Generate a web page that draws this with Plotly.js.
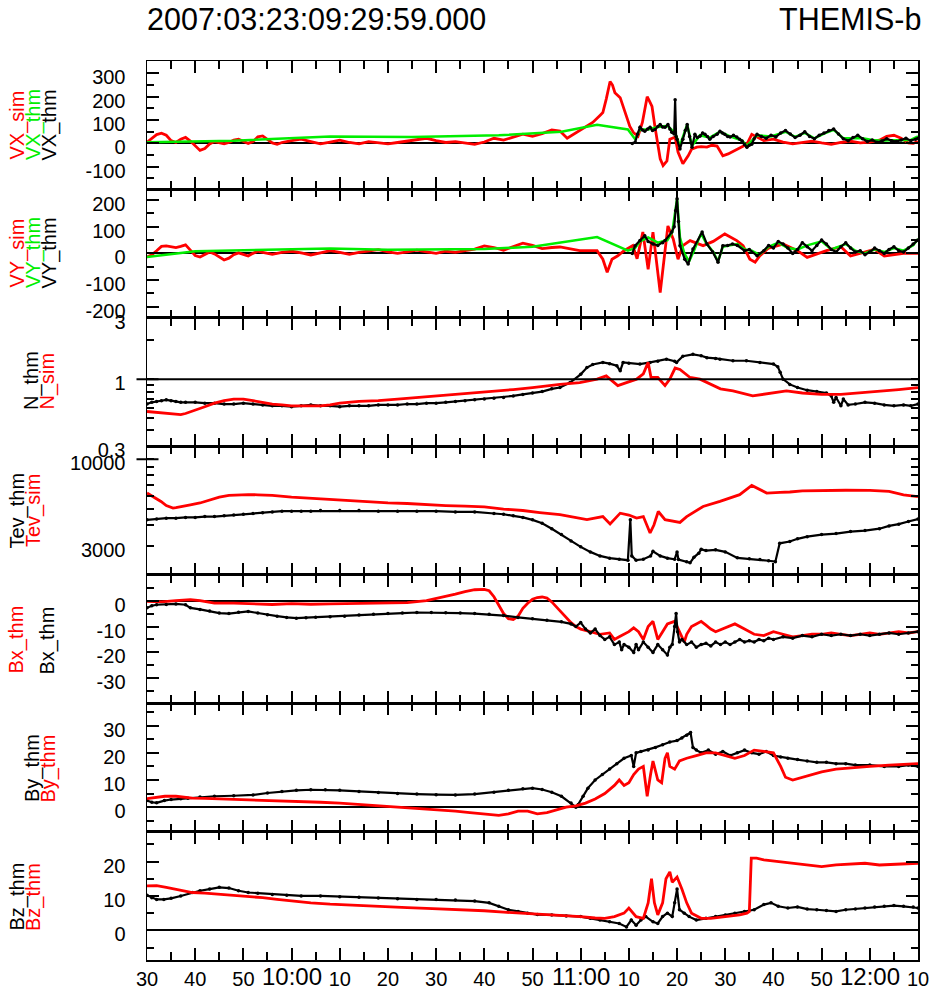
<!DOCTYPE html>
<html><head><meta charset="utf-8">
<script src="https://cdn.plot.ly/plotly-3.0.1.min.js"></script>
<style>html,body{margin:0;padding:0;background:#fff}#chart{width:934px;height:991px}</style>
</head><body><div id="chart"></div>
<script>
// time = minutes after 09:30:00 UT, 2007-03-23
const xTickVals = [0,10,20,30,40,50,60,70,80,90,100,110,120,130,140,150,160];
const xTickText = ['30','40','50','','10','20','30','40','50','','10','20','30','40','50','','10'];
const xMinorVals = [5,15,25,35,45,55,65,75,85,95,105,115,125,135,145,155];
const hourVals = [30,90,150];
const hourText = ['10:00','11:00','12:00'];

const vxTicks = [-100,0,100,200,300];
const vxTickText = ['-100','0','100','200','300'];
const vxMinor = [-150,-50,50,150,250];
const vyTicks = [-200,-100,0,100,200];
const vyTickText = ['-200','-100','0','100','200'];
const vyMinor = [-150,-50,50,150];
const nTicks = [0.3,1,3];
const nTickText = ['0.3','1','3'];
const nMinor = [0.4,0.5,0.6,0.7,0.8,0.9,2];
const teTicks = [3000,10000];
const teTickText = ['3000','10000'];
const teMinor = [4000,5000,6000,7000,8000,9000];
const bxTicks = [-30,-20,-10,0];
const bxTickText = ['-30','-20','-10','0'];
const bxMinor = [-35,-25,-15,-5,5];
const byTicks = [0,10,20,30];
const byTickText = ['0','10','20','30'];
const byMinor = [-5,5,15,25,35];
const bzTicks = [0,10,20];
const bzTickText = ['0','10','20'];
const bzMinor = [-5,5,15,25];

// [minute, value]
const vxSim = [[0,5],[1,20],[2,38],[3,44],[4,35],[5,12],[6,4],[7,18],[8,26],[9,10],[10,-12],[11,-30],[12,-22],[13,-2],[14,8],[15,4],[16,-2],[17,4],[18,14],[19,18],[20,8],[21,0],[22,8],[23,28],[24,32],[25,16],[26,2],[27,-4],[28,4],[30,12],[32,18],[34,8],[36,-2],[38,6],[40,14],[42,4],[44,-2],[46,8],[48,4],[50,-2],[52,4],[54,10],[56,18],[58,22],[60,12],[62,4],[64,8],[66,2],[68,-4],[70,6],[72,22],[74,14],[76,26],[78,40],[80,30],[82,42],[84,58],[85.7,53],[87.2,22],[89,45],[91,70],[92.5,90],[94,120],[94.6,132],[95.3,190],[96.1,265],[96.6,250],[97.1,217],[98.2,196],[98.8,158],[99.5,110],[100.2,73],[101,45],[101.9,31],[102.8,90],[103.8,200],[104.3,180],[104.8,158],[105.4,73],[106,-10],[106.5,-66],[107.1,-95],[107.9,-75],[108.5,18],[109.6,27],[110.2,-37],[111.2,-87],[112.3,-53],[113,-25],[114.1,-16],[115,-14],[116.2,-16],[117.2,-8],[118.3,-11],[119.5,-53],[120.6,-45],[122.4,-24],[124.5,-3],[125.5,39],[126.6,27],[128,12],[130,18],[132,6],[134,-2],[136,4],[138,10],[140,2],[142,-4],[144,4],[146,10],[148,2],[150,6],[152,14],[153.5,30],[155,35],[156.5,22],[158,2],[159,0],[160,8]];
const vxThmG = [[0,5],[18,12],[38,30],[55,28],[73,35],[86,50],[93.4,80],[99.8,60],[101.3,18],[102.3,60],[104,60],[106,70],[108,75],[109.6,45],[110.6,-10],[112.1,81],[113.1,-10],[114.75,35],[116.8,25],[118.9,50],[121,30],[123.5,12],[124.5,-10],[126.6,35],[129.5,30],[132.5,50],[134.5,28],[136.5,45],[138.5,22],[140.5,42],[142.5,58],[144.5,22],[146.5,22],[148.5,22],[150.5,15],[152.5,12],[154.5,14],[156.5,15],[158.5,15],[160,30]];
const vxThm = [[100.7,0],[101.3,5],[101.8,40],[102.3,69],[102.8,58],[103.3,52],[103.9,62],[104.4,69],[104.9,55],[105.4,60],[106,72],[106.5,81],[107,70],[107.5,69],[108.1,81],[108.5,62],[108.9,48],[109.4,40],[109.6,187],[109.8,30],[110,18],[110.6,-24],[111.2,18],[111.7,55],[112.1,81],[112.6,30],[113.1,-16],[113.7,39],[114.2,25],[114.75,31],[115.3,45],[115.8,39],[116.3,30],[116.8,18],[117.5,30],[118.3,39],[118.9,52],[119.4,45],[119.9,39],[120.5,30],[121,27],[121.7,35],[122.4,27],[123,18],[123.5,10],[124,-5],[124.5,-16],[125,-8],[125.5,-3],[126,20],[126.6,39],[127.5,30],[128.5,22],[129.5,35],[130.5,28],[131.5,45],[132.5,55],[133.5,40],[134.5,25],[135.5,35],[136.5,50],[137.5,30],[138.5,20],[139.5,35],[140.5,45],[141.5,55],[142.5,62],[143.5,40],[144.5,20],[145.5,12],[146.5,25],[147.5,35],[148.5,20],[149.5,8],[150.5,15],[151.5,5],[152.5,10],[153.5,20],[154.5,12],[155.5,8],[156.5,15],[157.5,22],[158.5,12],[159.5,18],[160,22]];

const vySim = [[0,-14],[1,-5],[2,10],[3,26],[4,28],[5,24],[6,22],[7,26],[8,32],[9,12],[10,-8],[11,-14],[12,-5],[13,5],[14,-2],[15,-15],[16,-25],[17,-18],[18,-5],[19,2],[20,-3],[21,-10],[22,0],[23,8],[24,4],[26,-4],[28,4],[30,8],[32,2],[34,-6],[36,2],[38,10],[40,4],[42,-4],[44,4],[46,10],[48,14],[50,6],[52,0],[54,6],[56,12],[58,6],[60,0],[62,8],[64,4],[66,10],[68,16],[70,28],[72,22],[74,12],[76,26],[78,38],[80,30],[82,18],[84,22],[85.7,24],[89.8,10],[93.4,10],[94.6,-22],[95.5,-71],[96.5,-22],[97.7,-9],[99,10],[100.8,29],[101.7,-20],[102.9,80],[104,-60],[105,80],[106.5,-147],[108.1,103],[109.2,54],[110.2,-22],[111.2,29],[112.7,48],[115.4,29],[117.5,45],[119.9,73],[122.4,48],[123.7,29],[125.1,-22],[126.2,-33],[127.2,-9],[129,20],[132,35],[135,10],[137,-15],[141,10],[144,25],[146,-10],[149,5],[151,15],[153,-10],[155,-5],[157,0],[160,0]];
const vyThmG = [[0,-14],[10,8],[38,18],[50,14],[70,16],[80,25],[93.4,61],[99.8,10],[101.3,20],[102.3,45],[104,60],[106,40],[108,50],[109,80],[110,205],[110.6,60],[111.5,0],[112.5,-30],[113.5,10],[115,75],[116,40],[117.5,5],[118.5,-30],[119.5,25],[121,30],[122.5,35],[124,15],[125.5,10],[127,-5],[129,25],[131,40],[133,20],[135,15],[137,30],[140,45],[142,15],[145,35],[147,10],[149,0],[151,15],[153,5],[155,20],[157,10],[159,30],[160,54]];
const vyThm = [[100.7,0],[101.3,29],[102.3,48],[103.3,66],[104,45],[105,35],[106,30],[107,40],[107.5,48],[108.9,80],[109.4,100],[109.7,160],[110,205],[110.3,120],[110.6,29],[111.6,-22],[112.3,-40],[113.3,16],[115.2,80],[116.2,35],[117.4,5],[118.5,-33],[119.5,29],[120.5,30],[121.5,35],[122.5,30],[124,10],[125,15],[126.6,-9],[128,10],[129,30],[130,20],[131,45],[132,35],[133,20],[134,0],[135,15],[136,40],[137,25],[138,10],[139,30],[140,50],[141,35],[142,15],[143,5],[144,25],[145,40],[146,20],[147,5],[148,10],[149,-5],[150,5],[151,20],[152,10],[153,0],[154,15],[155,25],[156,10],[157,5],[158,20],[159,35],[160,50]];

const nThm = [[0,0.64],[1,0.66],[2,0.67],[3,0.68],[4,0.69],[5,0.68],[6,0.67],[7,0.66],[8,0.66],[10,0.66],[12,0.65],[14,0.65],[16,0.64],[18,0.64],[20,0.65],[22,0.64],[24,0.63],[26,0.62],[28,0.62],[30,0.61],[32,0.62],[34,0.63],[36,0.62],[38,0.62],[40,0.61],[42,0.62],[44,0.62],[46,0.62],[48,0.63],[50,0.63],[52,0.63],[54,0.64],[56,0.64],[58,0.65],[60,0.65],[62,0.66],[64,0.67],[66,0.68],[68,0.69],[70,0.70],[72,0.71],[74,0.72],[76,0.74],[78,0.76],[80,0.78],[82,0.80],[84,0.84],[85.7,0.86],[87.8,0.94],[90,1.09],[91.3,1.23],[92.5,1.30],[94.6,1.35],[96,1.32],[97.5,1.27],[98.2,1.16],[98.8,1.35],[100,1.33],[102.3,1.31],[104.4,1.35],[106,1.38],[107.8,1.43],[109.5,1.38],[109.9,1.35],[111.2,1.51],[113.3,1.56],[115,1.52],[116.2,1.47],[118,1.45],[118.9,1.43],[121.6,1.39],[124.4,1.39],[127.2,1.35],[130,1.31],[130.9,1.25],[131.4,1.13],[132,1.0],[133.4,0.91],[135,0.86],[137,0.82],[139,0.80],[141,0.78],[142,0.74],[142.5,0.66],[143,0.72],[144,0.62],[144.5,0.70],[145.5,0.63],[147,0.64],[149,0.66],[151,0.65],[153,0.63],[155,0.62],[157,0.63],[158.5,0.62],[160,0.64]];
const nSim = [[0,0.56],[2,0.55],[4,0.54],[6,0.53],[7,0.53],[8,0.54],[10,0.57],[12,0.61],[14,0.65],[16,0.68],[18,0.70],[20,0.70],[22,0.68],[24,0.66],[26,0.64],[28,0.63],[30,0.62],[32,0.62],[34,0.62],[36,0.62],[38,0.63],[40,0.65],[44,0.67],[48,0.68],[52,0.70],[56,0.72],[60,0.74],[64,0.76],[68,0.78],[72,0.80],[76,0.83],[80,0.86],[82,0.88],[85.7,0.91],[89.8,0.94],[93.4,1.0],[95.3,1.06],[97.7,0.89],[99.5,0.94],[101.6,1.0],[103,1.1],[104,1.35],[104.6,1.03],[106,1.03],[107.5,0.89],[108.5,1.0],[109.6,1.22],[110.6,1.19],[112.7,1.03],[114.75,1.0],[119,0.84],[121.6,0.81],[125.7,0.74],[128.6,0.77],[132.7,0.81],[136,0.78],[140,0.76],[144,0.76],[148,0.78],[152,0.80],[156,0.83],[160,0.86]];

const teThm = [[0,4300],[2,4350],[4,4400],[6,4400],[8,4450],[10,4450],[12,4500],[14,4500],[16,4550],[18,4600],[20,4650],[22,4700],[24,4750],[26,4800],[28,4850],[30,4850],[32,4850],[34,4850],[36,4900],[40,4900],[44,4900],[48,4850],[52,4850],[56,4850],[60,4850],[64,4800],[68,4800],[72,4700],[74,4650],[76,4550],[78,4450],[80,4300],[82,4100],[84,3800],[86,3500],[88,3200],[90,2950],[92,2750],[94,2600],[96,2520],[98,2480],[99.8,2450],[100.3,4300],[100.6,2600],[101.5,2450],[103,2480],[104.5,2600],[105,2770],[106.5,2600],[108,2520],[109.5,2480],[110,2750],[110.3,2470],[112,2400],[112.7,2360],[113.5,2550],[114.5,2700],[115,2850],[116,2800],[118,2830],[120,2750],[122.5,2530],[125,2500],[127.2,2470],[129,2430],[130.4,2400],[131.3,3100],[133.4,3180],[135,3300],[137,3400],[140,3500],[143,3550],[146,3650],[149,3700],[152,3800],[154,3950],[156,4050],[158,4200],[160,4350]];
const teSim = [[0,6250],[1,6000],[2.9,5560],[4,5250],[5.4,5070],[6,5100],[7.8,5190],[9,5300],[11,5440],[13,5650],[15,5900],[17,6050],[19,6100],[21,6120],[23,6100],[26,6050],[30,5900],[34,5800],[38,5700],[42,5600],[46,5500],[50,5450],[54,5400],[58,5300],[62,5250],[66,5200],[70,5150],[74,5000],[78,4900],[81.5,4760],[85.7,4620],[91.3,4310],[94.6,4500],[96.1,4060],[98.2,4720],[100,4600],[101.6,4410],[103,4500],[104.4,3580],[105.2,4000],[106.1,4830],[107.5,4310],[110.6,4150],[112,4500],[115.4,5180],[118.9,5560],[123,6110],[125.5,6950],[128.6,6250],[131.4,6310],[133.4,6340],[136,6450],[140,6500],[145,6500],[150,6480],[154,6400],[157,6100],[160,5950]];

const bxSim = [[0,-0.3],[3,-0.5],[6,0],[9,0.4],[11,0],[14,-1],[18,-1],[22,-1.2],[26,-1.5],[30,-1.2],[34,-1.4],[38,-1.3],[42,-1.2],[46,-1.1],[50,-1],[54,-0.8],[58,0],[60,0.8],[62,1.6],[64,2.5],[66,3.5],[68,4.2],[70,4.3],[71,3.8],[72,1.5],[73,-2],[74,-5],[75,-7],[76,-7.3],[77,-6],[78,-3],[79,-1],[80,0.5],[81,1.2],[82,1.4],[83,1.0],[84,-0.5],[85,-2.5],[86,-4.5],[87,-6.5],[88,-8.5],[89,-10],[90,-11],[92,-12],[94,-13],[96,-12.5],[97,-15],[98,-14],[100,-12],[101,-10.5],[102,-12],[103,-15],[104,-10],[105,-8],[105.5,-12],[106,-15],[107,-12],[108,-9],[109.5,-8],[110.5,-12],[111.5,-16],[112,-13],[113,-10],[114,-9],[115,-8],[116,-9.5],[117,-11],[118,-12],[120,-10.5],[122,-9],[124,-11],[126,-13],[128,-13.5],[130,-12],[132,-13],[134,-14],[136,-13.5],[138,-13],[140,-13],[142,-12.5],[144,-13],[146,-13.5],[148,-13],[150,-12.5],[152,-13],[154,-12.5],[156,-12],[158,-12.5],[160,-12]];
const bxThm = [[0,-2.8],[1,-2],[2,-1.6],[4,-1.5],[6,-1.3],[8,-1.6],[9,-2.8],[11,-3.4],[13,-4],[15,-4.8],[17,-5],[19,-4.5],[21,-4.2],[23,-4.8],[25,-5.5],[27,-6],[29,-6.5],[31,-6.8],[33,-6.6],[35,-6.4],[38,-6.2],[41,-6.0],[44,-5.6],[47,-5.3],[50,-5.0],[53,-4.8],[56,-4.6],[59,-4.6],[62,-4.7],[65,-4.8],[68,-5],[71,-5.3],[74,-5.8],[77,-6.5],[80,-7],[83,-7.6],[86,-8.2],[88,-9],[89,-10],[90,-8.5],[91,-11],[92,-12.5],[93,-11],[94,-13.5],[95,-15],[96,-14],[97,-17],[98,-16],[98.5,-19],[99,-17],[100,-18],[101,-20],[101.5,-17],[102,-19],[103,-16],[104,-18],[105,-20],[106,-17],[107,-19],[108,-21],[108.5,-18],[109,-17],[109.5,-10],[109.8,-5],[110.1,-12],[110.5,-16],[111,-15],[112,-17],[113,-16],[114,-18],[115,-17],[116,-16.5],[117,-17.5],[118,-16],[119,-17],[120,-16],[121,-17],[122,-16],[123,-15],[124,-16],[125,-15.5],[126,-16],[127,-15],[128,-15.5],[129,-14.5],[130,-15],[132,-14],[134,-14.5],[136,-13.5],[138,-14],[140,-13],[142,-13.5],[144,-13],[146,-13.5],[148,-13],[150,-13.5],[152,-13],[154,-12.5],[156,-13],[158,-12.5],[160,-12]];

const bySim = [[0,3.1],[2,3.6],[3.7,4],[6,4],[8,3.6],[9.4,3.3],[12,3.2],[16,3.0],[20,2.8],[24,2.6],[28,2.3],[32,2.0],[36,1.8],[40,1.5],[44,1.0],[48,0.5],[52,0.2],[56,-0.3],[60,-0.8],[64,-1.5],[67,-2],[70,-2.5],[73,-3],[75,-2.5],[77,-1.5],[79,-1.5],[81,-2.5],[83,-2],[85,-1],[87,0],[89,0.5],[91,1.5],[93,3],[95,5],[97,8],[98,10],[99,8],[100,9],[101,12],[102,14],[103,15],[103.8,4],[104.5,12],[105,17],[106,10],[106.8,9],[107.5,18],[108,20],[108.5,15],[109.5,14],[110.5,17],[112,18],[114,19],[116,20],[118,20],[120,19],[122,18],[124,19],[126,21],[128,20.5],[130,20],[131.5,15],[132.5,11],[134,10],[136,11],[138,12],[140,13],[143,14],[146,14.5],[150,15],[154,15.5],[158,15.8],[160,16]];
const byThm = [[0,2.4],[1,1.8],[2,1.6],[3.6,2.4],[5,2.8],[7,3.1],[8.5,3.3],[11,3.7],[14,4],[18,4.2],[22,4.5],[25,5.2],[28,5.8],[31,6.2],[34,6.4],[37,6.4],[40,6.2],[44,5.8],[48,5.4],[52,5],[56,4.8],[60,4.6],[64,4.5],[68,4.8],[72,5.5],[75,6.2],[78,6.8],[80,7],[82,6.5],[84,5.5],[86,4],[88,1.5],[89,0],[89.5,1],[90.5,4],[91.5,7],[93,10],[94.5,12],[96,14],[97.5,16],[99,18],[100.5,19],[101,15],[101.5,20],[102.5,20.5],[104,21],[105.5,22],[107,23],[108.5,24],[110,24.5],[111,25.5],[112,26.5],[112.8,27.5],[113.3,22],[114,21],[115,20],[116.5,21],[118,19.5],[119.5,20.5],[121,19],[122.5,20],[124,21],[125.5,20],[127,19.5],[128.5,20.5],[130,19],[131.5,18.5],[133,18],[135,17.5],[137,17],[139,16.5],[141,16.5],[143,16],[145,16],[147,15.5],[150,15.5],[153,15],[156,15],[158,15.5],[160,15]];

const bzSim = [[0,12.9],[2,13],[4,12.5],[6,12],[8,11.5],[9.4,11],[12,10.8],[15,10.5],[18,10.2],[21,10],[24,9.5],[27,9],[30,8.5],[34,8],[38,7.6],[42,7.3],[46,7],[50,6.8],[54,6.6],[58,6.4],[62,6.2],[66,6],[70,5.7],[74,5.3],[78,5],[82,4.5],[86,4.2],[90,4],[93,3.6],[95,3.5],[97,4],[99,5],[100,6.5],[101.5,4],[103,3.5],[104,8],[104.7,15],[105.3,8],[106,4.5],[107,8],[107.7,15],[108.5,17],[109,14],[110,15.5],[111,12],[112,8],[113,5],[115,3.5],[117,3.5],[120,4],[123,4.5],[124.5,5],[125,5.5],[125.4,21],[126.5,21],[128,20.5],[131,20],[134,19.5],[137,18.8],[140,18.5],[143,19],[146,19.2],[149,19.5],[152,19],[155,19.2],[158,19.5],[160,19.5]];
const bzThm = [[0,10.2],[1,9.5],[2,9],[3.5,9],[5,9.3],[7,10],[9.4,11],[11,11.5],[13,12],[15,12.5],[17,12.3],[19,11.5],[21,11],[23,10.8],[26,10.4],[29,10.2],[32,10],[36,10],[40,9.8],[44,9.6],[48,9.4],[52,9.2],[56,9],[60,9],[64,8.8],[68,8.5],[71,8],[73,7],[75,6],[77,5.5],[79,5],[81,4.6],[84,4.5],[87,4.2],[90,4],[92,3.5],[94,3],[96,2.5],[98,2],[99.5,1],[100.5,3],[101.5,1.5],[102.5,3],[103.5,4],[105,2.5],[106,2],[107,4],[108,5],[109,4],[109.5,8],[110,12],[110.5,6],[111.5,5],[112.5,4],[114,3],[116,3.5],[118,4],[120,4.5],[122,5],[124,5.5],[126,6],[128,7.5],[129.5,8],[131,7],[133,6.5],[135,6.8],[137,6.2],[139,6],[141,5.8],[143,5.5],[145,6],[147,6.2],[149,6.5],[151,6.8],[153,7],[155,7.2],[157,7],[159,6.8],[160,6.5]];

const RED='#ff0000', GREEN='#00ee00', BLACK='#000000';
const FONT='Liberation Sans, Arial, Helvetica, sans-serif';
const L=147, R=918, T=61, B=960;
const px = x => (x-L)/(R-L);
const py = y => (B-y)/(B-T);

function tr(pairs, color, k, kind){
  return {x: pairs.map(p=>p[0]), y: pairs.map(p=>p[1]), type:'scatter',
    xaxis: k===1?'x':'x'+k, yaxis: k===1?'y':'y'+k, showlegend:false, hoverinfo:'skip',
    mode: kind==='thm'?'lines+markers':'lines',
    line:{color:color, width: kind==='thm'?2.2:(kind==='g'?2.5:2.8)},
    marker:{color:color, size:3.5}};
}
const data = [
  tr(vxSim,RED,1,'sim'), tr(vxThmG,GREEN,1,'g'), tr(vxThm,BLACK,1,'thm'),
  tr(vySim,RED,2,'sim'), tr(vyThmG,GREEN,2,'g'), tr(vyThm,BLACK,2,'thm'),
  tr(nThm,BLACK,3,'thm'), tr(nSim,RED,3,'sim'),
  tr(teThm,BLACK,4,'thm'), tr(teSim,RED,4,'sim'),
  tr(bxSim,RED,5,'sim'), tr(bxThm,BLACK,5,'thm'),
  tr(byThm,BLACK,6,'thm'), tr(bySim,RED,6,'sim'),
  tr(bzThm,BLACK,7,'thm'), tr(bzSim,RED,7,'sim')
];

const layout = {width:934, height:991, margin:{l:L, r:934-R, t:T, b:991-B},
  paper_bgcolor:'#fff', plot_bgcolor:'#fff', font:{family:FONT, size:20, color:'#000'},
  showlegend:false, shapes:[], annotations:[]};

const yspec = [
  {type:'linear', range:[-197,353], tv:vxTicks, tt:vxTickText, mv:vxMinor},
  {type:'linear', range:[-242,240], tv:vyTicks, tt:vyTickText, mv:vyMinor},
  {type:'log', range:[Math.log10(0.3),Math.log10(3)], tv:nTicks, tt:nTickText, mv:nMinor},
  {type:'log', range:[Math.log10(2000),Math.log10(12000)], tv:teTicks, tt:teTickText, mv:teMinor},
  {type:'linear', range:[-39.6,10], tv:bxTicks, tt:bxTickText, mv:bxMinor},
  {type:'linear', range:[-9,38.3], tv:byTicks, tt:byTickText, mv:byMinor},
  {type:'linear', range:[-8.6,28.7], tv:bzTicks, tt:bzTickText, mv:bzMinor}
];
for(let i=0;i<7;i++){
  const k=i+1, s=yspec[i];
  const xa = {anchor: k===1?'y':'y'+k, range:[0,160], tickmode:'array', tickvals:xTickVals, ticktext:xTickText,
    ticks:'inside', ticklen:12, tickwidth:2, tickcolor:'#000', showline:true, linewidth:1.5, linecolor:'#000',
    mirror:'ticks', showgrid:false, zeroline:false, showticklabels:k===7, tickfont:{size:20, family:FONT},
    minor:{tickmode:'array', tickvals:xMinorVals, ticks:'inside', ticklen:8, tickwidth:2, tickcolor:'#000', showgrid:false}};
  const ya = {anchor: k===1?'x':'x'+k, domain:[1-(i+1)/7, 1-i/7], type:s.type, range:s.range,
    tickmode:'array', tickvals:s.tv, ticktext:s.tt, ticks:'inside', ticklen: s.type==='log'?7:12, tickwidth:2, tickcolor:'#000',
    showline:true, linewidth:1.5, linecolor:'#000', mirror:'ticks', showgrid:false,
    zeroline: s.type!=='log', zerolinecolor:'#000', zerolinewidth:2,
    tickfont:{size:20, family:FONT}, ticklabelstandoff:16, ticklabelshift:4,
    minor:{tickmode:'array', tickvals:s.mv, ticks:'inside', ticklen:7, tickwidth:2, tickcolor:'#000', showgrid:false}};
  layout[k===1?'xaxis':'xaxis'+k] = xa;
  layout[k===1?'yaxis':'yaxis'+k] = ya;
}
layout.shapes.push({type:'line', xref:'x3', yref:'y3', x0:0, x1:160, y0:1, y1:1, line:{color:'#000', width:2}});
layout.shapes.push({type:'line', xref:'paper', yref:'y3', x0:px(136.5), x1:px(158.5), y0:1, y1:1, line:{color:'#000', width:2}});
layout.shapes.push({type:'line', xref:'paper', yref:'y4', x0:px(136.5), x1:px(158.5), y0:10000, y1:10000, line:{color:'#000', width:2}});

hourVals.forEach((v,j)=>layout.annotations.push({xref:'x7', yref:'paper', x:v, y:py(991), text:hourText[j],
  showarrow:false, xanchor:'center', yanchor:'bottom', borderpad:0, font:{size:24, family:FONT, color:'#000'}}));

const yTitles = [
  ['VX_sim',RED,16.5,125],['VX_thm',GREEN,33,125],['VX_thm',BLACK,48.5,125],
  ['VY_sim',RED,16.5,253],['VY_thm',GREEN,33,253],['VY_thm',BLACK,48.5,253],
  ['N_thm',BLACK,32,381],['N_sim',RED,47.5,381],
  ['Tev_thm',BLACK,16.5,511],['Tev_sim',RED,33,511],
  ['Bx_thm',RED,16.5,640],['Bx_thm',BLACK,47.5,640],
  ['By_thm',BLACK,32,768],['By_thm',RED,47.5,768],
  ['Bz_thm',BLACK,16.5,897],['Bz_thm',RED,33,897]
];
yTitles.forEach(a=>layout.annotations.push({xref:'paper', yref:'paper', x:px(a[2]), y:py(a[3]), text:a[0],
  textangle:-90, showarrow:false, xanchor:'center', yanchor:'middle', font:{size:20, family:FONT, color:a[1]}}));

layout.annotations.push({xref:'paper', yref:'paper', x:px(145), y:py(19), text:'2007:03:23:09:29:59.000',
  showarrow:false, xanchor:'left', yanchor:'middle', font:{size:30.5, family:FONT, color:'#000'}});
layout.annotations.push({xref:'paper', yref:'paper', x:px(923), y:py(19), text:'THEMIS-b',
  showarrow:false, xanchor:'right', yanchor:'middle', font:{size:30.5, family:FONT, color:'#000'}});

Plotly.newPlot('chart', data, layout, {staticPlot:true, displayModeBar:false});
</script></body></html>
